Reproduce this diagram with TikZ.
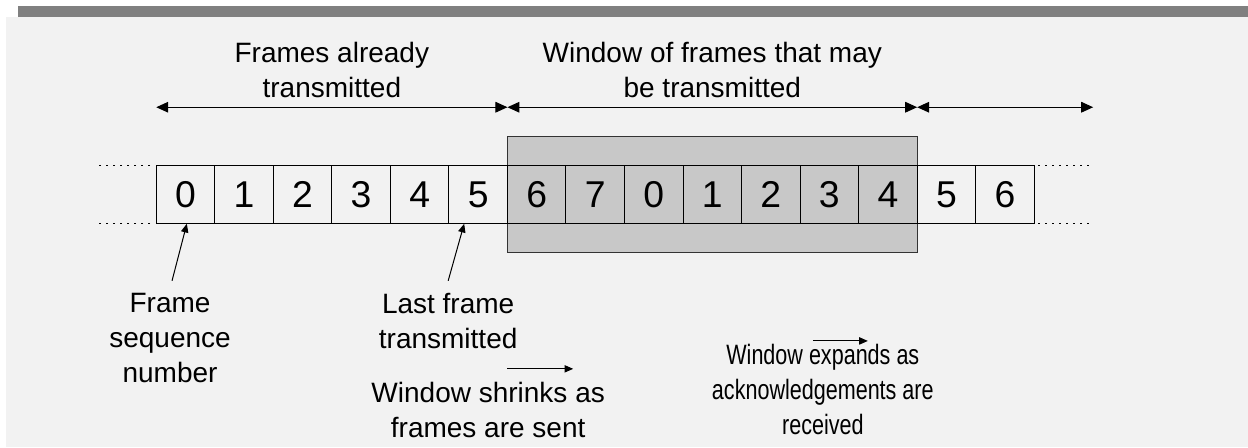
\documentclass[tikz,border=0pt]{standalone}
\usepackage{fontspec}
\setmainfont{Liberation Sans}
\newfontfamily\narrowfont[FakeStretch=0.77]{Liberation Sans}
\usepackage{xcolor}
\usetikzlibrary{arrows.meta, positioning, calc, fit, backgrounds}

\definecolor{panel}{HTML}{F2F2F2}
\definecolor{titlebar}{HTML}{808080}
\definecolor{winfill}{HTML}{C8C8C8}

\begin{document}
\begin{tikzpicture}[
    x=0.75pt, y=-0.75pt,
    node distance=0pt,
    cell/.style={rectangle, draw=black, line width=0.75pt, minimum size=43.9pt, inner sep=0pt, outer sep=0pt, font=\fontsize{28}{28}\selectfont},
    win/.style={rectangle, draw=black!80, fill=winfill, line width=0.75pt, inner xsep=0pt, inner ysep=21.5pt},
    lbl/.style={align=center, inner sep=0pt, font=\fontsize{21}{26.25}\selectfont},
    dots/.style={line width=0.9pt, dash pattern=on 1.5pt off 3.75pt},
    span/.style={{Triangle[length=9pt,width=8pt]}-{Triangle[length=9pt,width=8pt]}, line width=0.8pt},
    ptr/.style={-{Triangle[length=6.5pt,width=5.5pt]}, line width=0.75pt}
]

% Page frame
\begin{scope}[on background layer]
  \fill[white] (0,0) rectangle (1248,447);
  \fill[panel] (6,17) rectangle (1248,447);
  \fill[titlebar] (18,6) rectangle (1248,17);
\end{scope}
\useasboundingbox (0,0) rectangle (1248,447);

% Sequence numbers
\node[cell] (c0) at (185.5,194.5) {0};
\node[cell, right=of c0] (c1) {1};
\node[cell, right=of c1] (c2) {2};
\node[cell, right=of c2] (c3) {3};
\node[cell, right=of c3] (c4) {4};
\node[cell, right=of c4] (c5) {5};
\node[cell, right=of c5] (c6) {6};
\node[cell, right=of c6] (c7) {7};
\node[cell, right=of c7] (c8) {0};
\node[cell, right=of c8] (c9) {1};
\node[cell, right=of c9] (c10) {2};
\node[cell, right=of c10] (c11) {3};
\node[cell, right=of c11] (c12) {4};
\node[cell, right=of c12] (c13) {5};
\node[cell, right=of c13] (c14) {6};

% Sending window
\begin{scope}[on background layer]
  \node[win, fit=(c6)(c12)] (window) {};
\end{scope}

% Continuation dots
\draw[dots] ([xshift=-4.5pt]c0.north west) -- ++(-52,0);
\draw[dots] ([xshift=-4.5pt]c0.south west) -- ++(-52,0);
\draw[dots] ([xshift=3pt]c14.north east) -- ++(52,0);
\draw[dots] ([xshift=3pt]c14.south east) -- ++(52,0);

% Spans above the sequence
\coordinate[above=43.5pt of c0.north west] (t0);
\coordinate[above=43.5pt of c6.north west] (t1);
\coordinate[above=43.5pt of c12.north east] (t2);
\coordinate[right=132pt of t2] (t3);

\draw[span] (t0) -- node[lbl, above=6.75pt] {Frames already\\transmitted} (t1);
\draw[span] (t1) -- node[lbl, above=6.75pt] {Window of frames that may\\be transmitted} (t2);
\draw[span] (t2) -- (t3);

% Labels below
\node[lbl, below=51.75pt of c0, xshift=-11.6pt] (seqno) {Frame\\sequence\\number};
\node[lbl, below=51.75pt of c5, xshift=-22.5pt] (lastsent) {Last frame\\transmitted};
\node[lbl, below=24.75pt of lastsent, xshift=30pt] (shrink) {Window shrinks as\\frames are sent};
\node[lbl, font=\narrowfont\fontsize{21}{26.25}\selectfont, below=68.25pt of window, xshift=82.9pt] (expand) {Window expands as\\acknowledgements are\\received};

\draw[ptr] ([xshift=1.5pt, yshift=9pt]seqno.north) -- ([xshift=1pt]c0.south);
\draw[ptr] ([yshift=9pt]lastsent.north) -- ([xshift=-10.5pt]c5.south);

\coordinate (s0) at ([xshift=14.25pt, yshift=9.75pt]shrink.north);
\coordinate[right=49.5pt of s0] (s1);
\draw[ptr] (s0) -- (s1);

\coordinate (e0) at ([xshift=-7.5pt, yshift=2.25pt]expand.north);
\coordinate[right=41.25pt of e0] (e1);
\draw[ptr] (e0) -- (e1);

\end{tikzpicture}
\end{document}
